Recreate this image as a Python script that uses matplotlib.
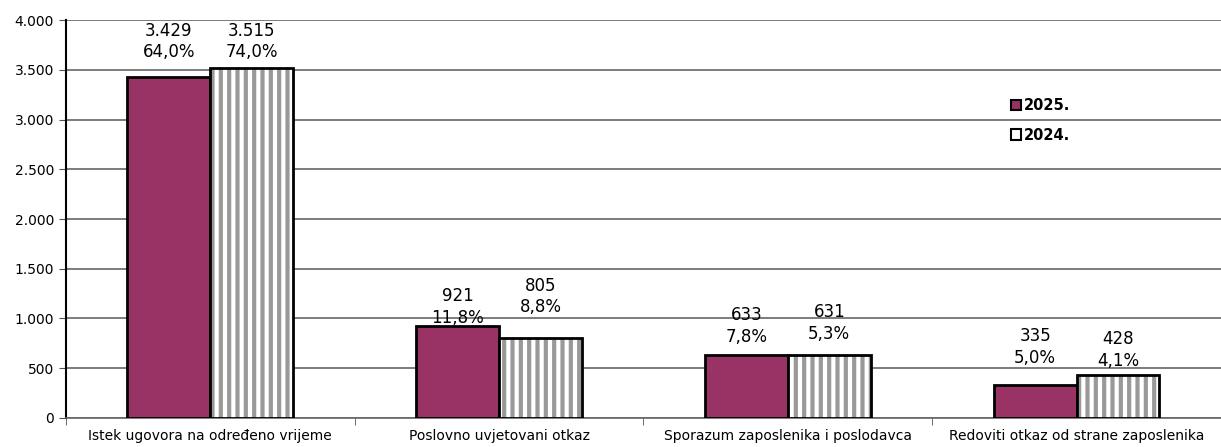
import matplotlib
matplotlib.use('Agg')
import matplotlib.pyplot as plt
import numpy as np
from matplotlib.ticker import FuncFormatter
from matplotlib.patches import Patch

categories = ['Istek ugovora na određeno vrijeme', 'Poslovno uvjetovani otkaz',
              'Sporazum zaposlenika i poslodavca', 'Redoviti otkaz od strane zaposlenika']
values2025 = [3429, 921, 633, 335]
values2024 = [3515, 805, 631, 428]
share2025 = ['64,0%', '11,8%', '7,8%', '5,0%']
share2024 = ['74,0%', '8,8%', '5,3%', '4,1%']

# label baselines (data units), placed by hand as in the original
labelY2025 = [3628, 955, 764, 553]
labelY2024 = [3628, 1065, 794, 523]

plt.rcParams['hatch.color'] = '#999999'
plt.rcParams['hatch.linewidth'] = 3.0

fig = plt.figure(figsize=(12.21, 4.47), dpi=100)
ax = fig.add_axes([0.054, 0.065, 0.946, 0.89])

x = np.arange(len(categories))
width = 0.287

ax.bar(x - width / 2, values2025, width, color='#993366',
       edgecolor='black', linewidth=2, zorder=3)
ax.bar(x + width / 2, values2024, width, color='white', hatch='||',
       edgecolor='#999999', linewidth=0, zorder=3)
# outline drawn separately so hatch stays gray
ax.bar(x + width / 2, values2024, width, color='none', edgecolor='black',
       linewidth=2, zorder=4)


def fmt(v):
    return f'{v:,}'.replace(',', '.')


for i in range(len(categories)):
    ax.text(x[i] - width / 2, labelY2025[i], f'{fmt(values2025[i])}\n{share2025[i]}',
            ha='center', va='baseline', fontsize=12, linespacing=1.25, zorder=5)
    ax.text(x[i] + width / 2, labelY2024[i], f'{fmt(values2024[i])}\n{share2024[i]}',
            ha='center', va='baseline', fontsize=12, linespacing=1.25, zorder=5)

ax.set_xlim(-0.5, len(categories) - 0.5)
ax.set_ylim(0, 4000)
ax.set_yticks(np.arange(0, 4001, 500))
ax.yaxis.set_major_formatter(FuncFormatter(lambda v, p: fmt(int(v))))
ax.set_xticks(x)
ax.set_xticklabels(categories, fontsize=10)
ax.set_xticks(np.arange(-0.5, len(categories), 1), minor=True)
ax.tick_params(axis='x', which='major', length=0, pad=8)
ax.tick_params(axis='x', which='minor', length=5, direction='out', color='#555555')
ax.tick_params(axis='y', labelsize=10, length=5, color='#555555')

ax.grid(axis='y', color='#666666', linewidth=1.2, zorder=0)
ax.set_axisbelow(True)
for s in ['top', 'right']:
    ax.spines[s].set_visible(False)
ax.spines['left'].set_color('black')
ax.spines['left'].set_linewidth(1.5)
ax.spines['bottom'].set_color('#666666')
ax.spines['bottom'].set_linewidth(1.2)

handles = [Patch(facecolor='#993366', edgecolor='black', linewidth=1.5, label='2025.'),
           Patch(facecolor='white', edgecolor='black', linewidth=1.5, label='2024.')]
ax.legend(handles=handles, loc='upper left', bbox_to_anchor=(0.807, 0.837),
          frameon=False, handlelength=0.7, handleheight=0.7, handletextpad=0.2,
          labelspacing=1.0, prop={'weight': 'bold', 'size': 10.5})

fig.savefig('out.png', dpi=100)
